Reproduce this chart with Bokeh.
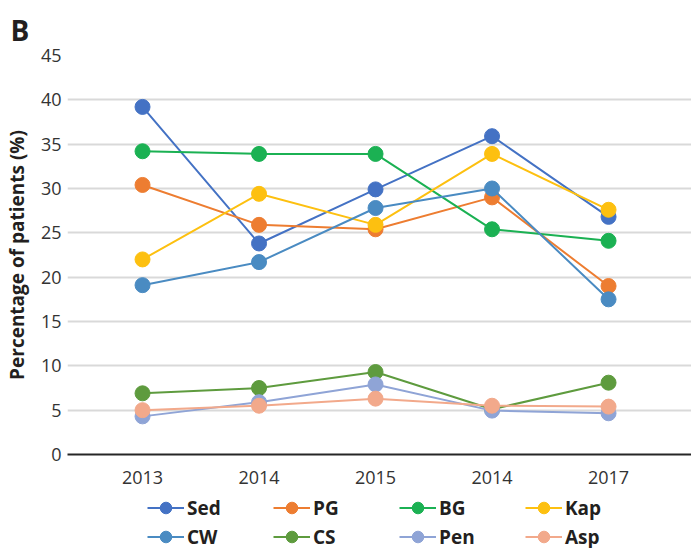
from bokeh.plotting import figure
from bokeh.layouts import column
from bokeh.models import Range1d, FixedTicker, Legend, LegendItem, Title
from bokeh.embed import file_html
from bokeh.resources import INLINE

# ---- data ----
years = ["2013", "2014", "2015", "2014", "2017"]
x_pos = [0, 1, 2, 3, 4]
series_names = ["Sed", "PG", "BG", "Kap", "CW", "CS", "Pen", "Asp"]
sed = [39.2, 23.8, 29.9, 35.9, 26.8]
pg = [30.4, 25.9, 25.4, 29.0, 19.0]
bg = [34.2, 33.9, 33.9, 25.4, 24.1]
kap = [22.0, 29.4, 25.9, 33.9, 27.6]
cw = [19.1, 21.7, 27.8, 30.0, 17.5]
cs = [6.9, 7.5, 9.3, 5.1, 8.1]
pen = [4.3, 5.9, 7.9, 4.95, 4.65]
asp = [5.0, 5.5, 6.3, 5.5, 5.4]
y_ticks = [0, 5, 10, 15, 20, 25, 30, 35, 40, 45]

series_values = [sed, pg, bg, kap, cw, cs, pen, asp]
colors = ["#4472C4", "#ED7D31", "#1BB153", "#FDC010", "#4A8BC2", "#5E9B3E", "#8FA4D6", "#F2A98B"]

FONT = "Open Sans"

p = figure(
    frame_width=624, frame_height=399,
    min_border_left=61, min_border_right=0, min_border_top=55, min_border_bottom=36,
    x_range=Range1d(-0.644, 4.712), y_range=Range1d(0, 45),
    output_backend="svg", toolbar_location=None,
)
p.outline_line_color = None
p.background_fill_color = "white"
p.border_fill_color = "white"

t = Title(text="B", text_font=FONT, text_font_size="28px", text_font_style="bold",
          text_color="#231F20", align="left", vertical_align="bottom",
          offset=-57, standoff=13)
p.add_layout(t, "above")

# axes
p.xaxis.ticker = FixedTicker(ticks=x_pos)
p.xaxis.major_label_overrides = {i: y for i, y in zip(x_pos, years)}
p.xaxis.major_tick_line_color = None
p.xaxis.minor_tick_line_color = None
p.xaxis.axis_line_color = "#262626"
p.xaxis.axis_line_width = 2
p.xaxis.major_label_text_font = FONT
p.xaxis.major_label_text_font_size = "18px"
p.xaxis.major_label_text_color = "#333333"
p.xaxis.major_label_standoff = 10

p.yaxis.ticker = FixedTicker(ticks=y_ticks)
p.yaxis.major_tick_line_color = None
p.yaxis.minor_tick_line_color = None
p.yaxis.major_tick_out = 0
p.yaxis.major_tick_in = 0
p.yaxis.minor_tick_out = 0
p.yaxis.axis_line_color = None
p.yaxis.major_label_text_font = FONT
p.yaxis.major_label_text_font_size = "18px"
p.yaxis.major_label_text_color = "#333333"
p.yaxis.major_label_standoff = 6
p.yaxis.axis_label = "Percentage of patients (%)"
p.yaxis.axis_label_text_font = FONT
p.yaxis.axis_label_text_font_size = "19px"
p.yaxis.axis_label_text_font_style = "bold"
p.yaxis.axis_label_text_color = "#231F20"
p.yaxis.axis_label_standoff = 8

p.xgrid.grid_line_color = None
p.ygrid.grid_line_color = "#D9D9D9"
p.ygrid.grid_line_width = 2

for name, vals, col in zip(series_names, series_values, colors):
    p.line(x_pos, vals, line_color=col, line_width=2)
    p.scatter(x_pos, vals, size=15, fill_color=col, line_color=col, line_width=1)

# ---- legend strip (own small figure; its series copies lie outside its view) ----
pl = figure(
    width=685, height=58, min_border=0,
    x_range=Range1d(0, 1), y_range=Range1d(100, 101),
    x_axis_location=None, y_axis_location=None,
    output_backend="svg", toolbar_location=None,
)
pl.outline_line_color = None
pl.xgrid.grid_line_color = None
pl.ygrid.grid_line_color = None
pl.background_fill_color = "white"
pl.border_fill_color = "white"

items = []
for name, vals, col in zip(series_names, series_values, colors):
    l = pl.line(x_pos, vals, line_color=col, line_width=2)
    s = pl.scatter(x_pos, vals, size=15, fill_color=col, line_color=col, line_width=1)
    items.append(LegendItem(label=name, renderers=[l, s]))

legend = Legend(items=items, ncols=4, orientation="horizontal",
                glyph_width=37, glyph_height=29, label_height=20, label_width=86,
                label_standoff=3, spacing=0, padding=0, margin=0,
                border_line_color=None, background_fill_alpha=0,
                label_text_font=FONT, label_text_font_size="19px",
                label_text_font_style="bold", label_text_color="#231F20",
                location=(80, -3))
pl.add_layout(legend, "center")

layout = column(p, pl, spacing=0)
open("out.html", "w").write(file_html(layout, INLINE))
